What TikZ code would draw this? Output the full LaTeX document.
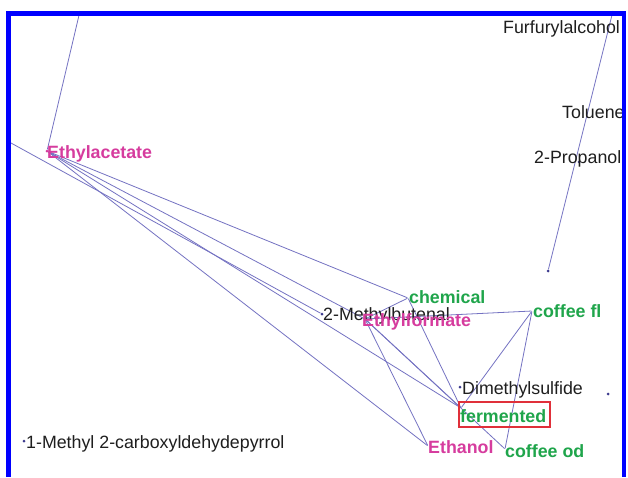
\documentclass[tikz,border=0pt]{standalone}
\usepackage{fontspec}
\setmainfont{Liberation Sans}
\usepackage{xcolor}
\usepackage{tikz}
\usetikzlibrary{positioning}
\definecolor{frameBlue}{HTML}{0000FF}
\definecolor{linkBlue}{HTML}{7472C2}
\definecolor{dotBlue}{HTML}{3C3A8E}
\definecolor{odorMagenta}{HTML}{D63C9E}
\definecolor{odorGreen}{HTML}{1FA54B}
\definecolor{boxRed}{HTML}{E0303A}
\definecolor{nameBlack}{HTML}{1E1E1E}

\begin{document}
\begin{tikzpicture}[x=1pt,y=-1pt,
    dot/.style={circle, fill=dotBlue, inner sep=0pt, minimum size=3pt},
    hub/.style={circle, inner sep=0pt, minimum size=1pt},
    link/.style={linkBlue, line width=0.8pt},
    cmp/.style={anchor=base west, inner sep=0pt, text=nameBlack, font=\fontsize{17.8}{20}\selectfont},
    odor/.style={cmp, font=\fontsize{17.8}{20}\selectfont\bfseries}]
        \useasboundingbox[fill=white] (0,0) rectangle (628,477);

        % points
        \coordinate (topL) at (80,11);
        \coordinate (edgeL) at (11,143);
        \coordinate (topR) at (613,11);
        \node[hub, fill=odorMagenta, minimum size=3pt] (ethylacetate) at (47,151) {};
        \node[hub] (chemical) at (408,298) {};
        \node[dot] (methylbutenal) at (322,314) {};
        \node[hub] (ethylformate) at (365,319) {};
        \node[hub] (coffeefl) at (532,311) {};
        \node[dot] (dimethylsulfide) at (460,387) {};
        \node[hub] (fermented) at (461,408) {};
        \node[hub] (ethanol) at (428,446) {};
        \node[hub] (coffeeod) at (505,449) {};
        \node[dot] (propanol) at (579,162) {};
        \node[dot] (loneA) at (548,271) {};
        \node[dot] (loneB) at (608,394) {};
        \node[dot] (pyrrol) at (24,441) {};

        % links
        \foreach \b in {topL,chemical,ethylformate,fermented,ethanol}
            \draw[link] (ethylacetate) -- (\b);
        \draw[link] (edgeL) -- (methylbutenal);
        \draw[link] (chemical) -- (ethylformate);
        \draw[link] (chemical) -- (fermented);
        \foreach \b in {coffeefl,ethanol,fermented,coffeeod}
            \draw[link] (ethylformate) -- (\b);
        \draw[link] (coffeefl) -- (fermented);
        \draw[link] (coffeefl) -- (coffeeod);
        \draw[link] (topR) -- (loneA);

        % labels
        \node[cmp] (lFurfuryl) at (503,33) {Furfurylalcohol};
        \node[cmp] (lToluene) at (562,118) {Toluene};
        \node[cmp] (lPropanol) at (534,163) {2-Propanol};
        \node[cmp] (lMethylbutenal) at (323,320) {2-Methylbutenal};
        \node[cmp] (lDimethylsulfide) at (462,394) {Dimethylsulfide};
        \node[cmp] (lPyrrol) at (26,448) {1-Methyl 2-carboxyldehydepyrrol};
        \node[odor, text=odorMagenta] (lEthylacetate) at (47,158) {Ethylacetate};
        \node[odor, text=odorMagenta] (lEthylformate) at (362,326) {Ethylformate};
        \node[odor, text=odorMagenta] (lEthanol) at (428,453) {Ethanol};
        \node[odor, text=odorGreen] (lChemical) at (409,303) {chemical};
        \node[odor, text=odorGreen] (lCoffeefl) at (533,317) {coffee fl};
        \node[odor, text=odorGreen] (lFermented) at (460,422) {fermented};
        \node[odor, text=odorGreen] (lCoffeeod) at (505,457) {coffee od};
        \draw[boxRed, line width=1.2pt] (459,402) rectangle (550,427);

        % frame
        \fill[frameBlue] (6,11) rectangle (626,16);
        \fill[frameBlue] (6,11) rectangle (11,477);
        \fill[frameBlue] (622,11) rectangle (626,477);
\end{tikzpicture}
\end{document}
